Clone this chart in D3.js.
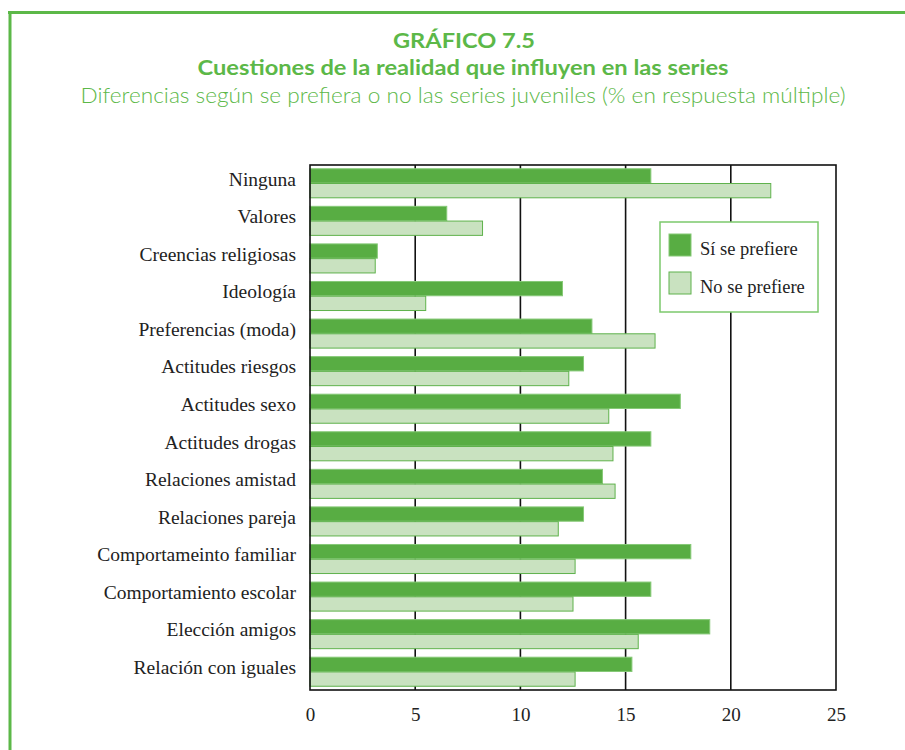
<!DOCTYPE html>
<html><head><meta charset="utf-8">
<script src="https://cdn.jsdelivr.net/npm/d3@7"></script>
<style>body{margin:0;background:#fff}</style>
</head><body>
<script>
const categories = ["Ninguna","Valores","Creencias religiosas","Ideología","Preferencias (moda)","Actitudes riesgos","Actitudes sexo","Actitudes drogas","Relaciones amistad","Relaciones pareja","Comportameinto familiar","Comportamiento escolar","Elección amigos","Relación con iguales"];
const siSePrefiere = [16.2,6.5,3.2,12.0,13.4,13.0,17.6,16.2,13.9,13.0,18.1,16.2,19.0,15.3];
const noSePrefiere = [21.9,8.2,3.1,5.5,16.4,12.3,14.2,14.4,14.5,11.8,12.6,12.5,15.6,12.6];
const seriesNames = ["Sí se prefiere","No se prefiere"];
const xTicks = [0,5,10,15,20,25];

(function(){
const W = 905, H = 750;
const green = "#5cb848";
const svg = d3.select("body").append("svg").attr("width",W).attr("height",H);

// frame
svg.append("line").attr("x1",8).attr("x2",W).attr("y1",12.5).attr("y2",12.5).attr("stroke",green).attr("stroke-width",3);
svg.append("line").attr("x1",10).attr("x2",10).attr("y1",11).attr("y2",H).attr("stroke",green).attr("stroke-width",3);

// titles
const tf = "Lato, 'Open Sans', sans-serif";
svg.append("text").attr("x",464).attr("y",48).attr("text-anchor","middle").attr("font-family",tf).attr("font-weight","bold").attr("font-size",20).attr("fill",green).attr("textLength",142).attr("lengthAdjust","spacingAndGlyphs").text("GRÁFICO 7.5");
svg.append("text").attr("x",463).attr("y",75).attr("text-anchor","middle").attr("font-family",tf).attr("font-weight","bold").attr("font-size",21).attr("fill",green).attr("textLength",531).attr("lengthAdjust","spacingAndGlyphs").text("Cuestiones de la realidad que influyen en las series");
svg.append("text").attr("x",463).attr("y",103).attr("text-anchor","middle").attr("font-family",tf).attr("font-weight",300).attr("font-size",21).attr("fill",green).attr("textLength",765).attr("lengthAdjust","spacingAndGlyphs").text("Diferencias según se prefiera o no las series juveniles (% en respuesta múltiple)");

const pl = 310, pr = 836, pt = 165, pb = 690;
const x = d3.scaleLinear().domain([0,25]).range([pl,pr]);
const y = d3.scaleBand().domain(categories).range([pt,pb]).paddingInner(0.227).paddingOuter(0.1);
const sub = d3.scaleBand().domain(seriesNames).range([0,y.bandwidth()]).paddingInner(0.03);

const serif = "'Liberation Serif', 'DejaVu Serif', serif";

// gridlines
svg.append("g").selectAll("line").data(xTicks.slice(1,-1)).join("line")
  .attr("x1",d=>x(d)).attr("x2",d=>x(d)).attr("y1",pt).attr("y2",pb)
  .attr("stroke","#111").attr("stroke-width",1.6);

// bars
const data = categories.map((c,i)=>({c, vals:[siSePrefiere[i], noSePrefiere[i]]}));
const fills = ["#58ad43","#c9e2c0"], strokes = ["#86c977","#5fb24c"];
const g = svg.append("g");
data.forEach(d=>{
  d.vals.forEach((v,j)=>{
    g.append("rect").attr("x",x(0)).attr("y",y(d.c)+sub(seriesNames[j]))
     .attr("width",x(v)-x(0)).attr("height",sub.bandwidth())
     .attr("fill",fills[j]).attr("stroke",strokes[j]).attr("stroke-width",1);
  });
});

// plot border
svg.append("rect").attr("x",pl).attr("y",pt).attr("width",pr-pl).attr("height",pb-pt)
  .attr("fill","none").attr("stroke","#111").attr("stroke-width",1.6);

// x axis labels
const xa = svg.append("g").attr("transform",`translate(0,${pb})`)
  .call(d3.axisBottom(x).tickValues(xTicks).tickSize(0).tickPadding(17.5));
xa.select(".domain").remove();
xa.selectAll("text").attr("font-family",serif).attr("font-size",19).attr("fill","#222");

// y labels
const ya = svg.append("g").attr("transform",`translate(${pl},0)`)
  .call(d3.axisLeft(y).tickSize(0).tickPadding(14));
ya.select(".domain").remove();
ya.selectAll("text").attr("font-family",serif).attr("font-size",19.5).attr("fill","#222").attr("dy","0.12em");

// legend
const lg = svg.append("g");
lg.append("rect").attr("x",660).attr("y",222).attr("width",158).attr("height",90)
  .attr("fill","#fff").attr("stroke","#7cc96c").attr("stroke-width",1.5);
seriesNames.forEach((s,j)=>{
  lg.append("rect").attr("x",669).attr("y",234+j*38).attr("width",22).attr("height",22)
    .attr("fill",fills[j]).attr("stroke",strokes[j]).attr("stroke-width",1);
  lg.append("text").attr("x",700).attr("y",255+j*38).attr("font-family",serif).attr("font-size",18.5).attr("fill","#222").text(s);
});
})();
</script>
</body></html>
